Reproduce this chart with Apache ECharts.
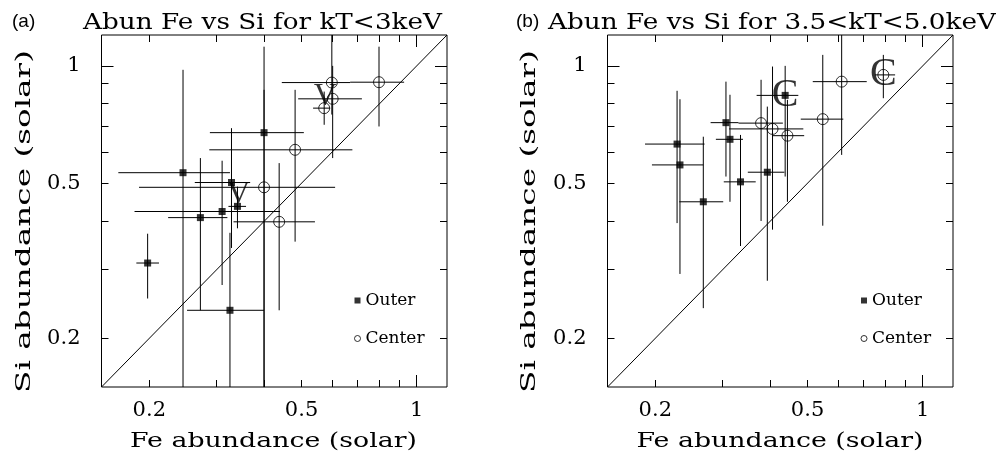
<!DOCTYPE html>
<html><head><meta charset="utf-8">
<script src="https://cdn.jsdelivr.net/npm/echarts@6/dist/echarts.min.js"></script>
<style>html,body{margin:0;padding:0;background:#fff}#c{width:996px;height:456px}</style>
</head><body><div id="c"></div>
<script>
// ---------- data ----------
const panelTags = ['(a)', '(b)'];
const panelTitles = ['Abun Fe vs Si for kT<3keV', 'Abun Fe vs Si for 3.5<kT<5.0keV'];
const xName = 'Fe abundance (solar)';
const yName = 'Si abundance (solar)';
const legendNames = ['Outer', 'Center'];
const axisMin = 0.15, axisMax = 1.2;
const tickLabels = [0.2, 0.5, 1];
const minorTicks = [0.2, 0.3, 0.4, 0.5, 0.6, 0.7, 0.8, 0.9];
const majorTicks = [1];
const diagonal = [[0.15, 0.15], [1.2, 1.2]];
// rows: [Fe, Si, FeLow, FeHigh, SiLow, SiHigh, tag]
const outerA = [
  [0.198, 0.312, 0.185, 0.212, 0.253, 0.371],
  [0.245, 0.532, 0.166, 0.325, 0.14, 0.977],
  [0.272, 0.408, 0.224, 0.320, 0.236, 0.580],
  [0.310, 0.423, 0.183, 0.439, 0.274, 0.571],
  [0.328, 0.502, 0.263, 0.367, 0.341, 0.692],
  [0.325, 0.236, 0.251, 0.399, 0.14, 0.373],
  [0.399, 0.674, 0.288, 0.507, 0.14, 1.12],
  [0.340, 0.436, 0.322, 0.358, 0.383, 0.490, 'V']
];
const centerA = [
  [0.399, 0.488, 0.188, 0.612, 0.14, 0.868],
  [0.600, 0.906, 0.444, 0.670, 0.75, 1.3],
  [0.797, 0.908, 0.670, 0.927, 0.699, 1.12],
  [0.603, 0.823, 0.490, 0.719, 0.58, 1.0],
  [0.573, 0.779, 0.536, 0.594, 0.706, 0.859, 'V'],
  [0.481, 0.609, 0.287, 0.679, 0.354, 0.868],
  [0.437, 0.398, 0.332, 0.542, 0.236, 0.563]
];
const outerB = [
  [0.228, 0.630, 0.188, 0.269, 0.395, 0.863],
  [0.232, 0.557, 0.196, 0.267, 0.2925, 0.821],
  [0.267, 0.448, 0.231, 0.301, 0.239, 0.658],
  [0.306, 0.715, 0.279, 0.330, 0.520, 0.911],
  [0.3135, 0.648, 0.288, 0.339, 0.448, 0.843],
  [0.334, 0.504, 0.302, 0.366, 0.345, 0.665],
  [0.3925, 0.5335, 0.349, 0.435, 0.281, 0.786],
  [0.437, 0.84, 0.368, 0.473, 0.520, 1.0, 'C']
];
const centerB = [
  [0.378, 0.713, 0.330, 0.431, 0.40, 0.921],
  [0.405, 0.689, 0.312, 0.4875, 0.380, 0.996],
  [0.443, 0.662, 0.405, 0.490, 0.448, 0.818],
  [0.548, 0.730, 0.480, 0.620, 0.389, 1.067],
  [0.614, 0.911, 0.516, 0.714, 0.591, 1.3],
  [0.789, 0.948, 0.750, 0.847, 0.826, 1.067, 'C']
];
const panels = [[outerA, centerA], [outerB, centerB]];

// ---------- styles ----------
const SERIF = 'DejaVu Serif';
const ANNOT = 'Liberation Serif';
const grids = [
  {left: 101.5, top: 35, width: 345.5, height: 352},
  {left: 607.5, top: 35, width: 345.5, height: 352}
];
const annotStyle = {
  V: {offset: [1, -12], fontSize: 32},
  C: {offset: [0, 0], fontSize: 40}
};

function fmt(v) { return String(Math.round(v * 100) / 100); }

function mkAxis(dim, gi, pos, ticks, len, withLabels) {
  const a = {
    type: 'log', logBase: 10, gridIndex: gi, position: pos,
    min: axisMin, max: axisMax,
    axisLine: {show: false}, splitLine: {show: false},
    axisTick: {show: true, inside: true, customValues: ticks, length: len,
               lineStyle: {color: '#000', width: 1}},
    axisLabel: {show: false}
  };
  if (withLabels) {
    a.axisLabel = {show: true, customValues: tickLabels, formatter: fmt,
      margin: dim === 'x' ? 13 : 21, color: '#000', fontFamily: SERIF, fontSize: 21};
  }
  return a;
}

const xAxis = [], yAxis = [];
grids.forEach((g, gi) => {
  xAxis.push(mkAxis('x', gi, 'bottom', minorTicks, 7, true));
  xAxis.push(mkAxis('x', gi, 'bottom', majorTicks, 12, false));
  xAxis.push(mkAxis('x', gi, 'top', minorTicks, 7, false));
  xAxis.push(mkAxis('x', gi, 'top', majorTicks, 12, false));
  yAxis.push(mkAxis('y', gi, 'left', minorTicks, 7, true));
  yAxis.push(mkAxis('y', gi, 'left', majorTicks, 12, false));
  yAxis.push(mkAxis('y', gi, 'right', minorTicks, 7, false));
  yAxis.push(mkAxis('y', gi, 'right', majorTicks, 12, false));
});

function errRender(params, api) {
  const clamp = v => Math.min(Math.max(v, axisMin), axisMax);
  const x = api.value(0), y = api.value(1);
  const a = api.coord([clamp(api.value(2)), y]);
  const b = api.coord([clamp(api.value(3)), y]);
  const c = api.coord([x, clamp(api.value(4))]);
  const d = api.coord([x, clamp(api.value(5))]);
  const st = {stroke: '#000', lineWidth: 1};
  return {type: 'group', children: [
    {type: 'line', shape: {x1: a[0], y1: a[1], x2: b[0], y2: b[1]}, style: st},
    {type: 'line', shape: {x1: c[0], y1: c[1], x2: d[0], y2: d[1]}, style: st}
  ]};
}

function pts(rows) {
  return rows.map(r => {
    const item = {value: [r[0], r[1]]};
    if (r[6]) {
      const s = annotStyle[r[6]];
      item.label = {show: true, formatter: r[6], position: 'inside', offset: s.offset,
        fontFamily: ANNOT, fontSize: s.fontSize, color: '#000'};
    }
    return item;
  });
}

const series = [];
panels.forEach((p, gi) => {
  const ax = {xAxisIndex: gi * 4, yAxisIndex: gi * 4};
  series.push(Object.assign({type: 'line', data: diagonal, symbol: 'none', silent: true,
    lineStyle: {color: '#000', width: 1}, z: 1}, ax));
  [p[0], p[1]].forEach(rows => {
    series.push(Object.assign({type: 'custom', renderItem: errRender, silent: true, z: 2,
      dimensions: ['fe', 'si', 'feLo', 'feHi', 'siLo', 'siHi'],
      encode: {x: 0, y: 1}, data: rows.map(r => r.slice(0, 6))}, ax));
  });
  series.push(Object.assign({type: 'scatter', name: legendNames[0], symbol: 'rect', symbolSize: 7,
    itemStyle: {color: '#000'}, z: 3, data: pts(p[0])}, ax));
  series.push(Object.assign({type: 'scatter', name: legendNames[1], symbol: 'circle', symbolSize: 11,
    itemStyle: {color: 'rgba(0,0,0,0)', borderColor: '#000', borderWidth: 1}, z: 3,
    data: pts(p[1])}, ax));
});

// text measuring for horizontally stretched PGPLOT-like lettering
const mctx = document.createElement('canvas').getContext('2d');
function stretch(text, px, target) {
  mctx.font = px + 'px "' + SERIF + '"';
  return target / mctx.measureText(text).width;
}

const titles = [];
const legends = [];
const graphics = [];
const tagLeft = [12, 516], titleLeft = [83, 548], titleW = [359, 448];
const legLeft = [354, 860.5], yNameX = [25, 530], xNameX = [273.5, 780];
panelTitles.forEach((t, i) => {
  titles.push({text: panelTags[i], left: tagLeft[i], top: 12, padding: 0,
    textStyle: {fontFamily: 'Liberation Sans', fontSize: 19, fontWeight: 'normal', color: '#000'}});
  graphics.push({type: 'text', x: titleLeft[i], y: 23, scaleX: stretch(t, 22, titleW[i]),
    style: {text: t, font: '22px "' + SERIF + '"', align: 'left', verticalAlign: 'middle', fill: '#000'}});
  graphics.push({type: 'text', x: xNameX[i], y: 442, scaleX: stretch(xName, 21, 287),
    style: {text: xName, font: '21px "' + SERIF + '"', align: 'center', verticalAlign: 'middle', fill: '#000'}});
  graphics.push({type: 'text', x: yNameX[i], y: 221.5, rotation: Math.PI / 2, scaleX: stretch(yName, 21, 343),
    style: {text: yName, font: '21px "' + SERIF + '"', align: 'center', verticalAlign: 'middle', fill: '#000'}});
  legends.push({left: legLeft[i], top: 292, orient: 'vertical', padding: 0, itemGap: 21,
    itemWidth: 6, itemHeight: 6, selectedMode: false,
    textStyle: {fontFamily: SERIF, fontSize: 17, color: '#000'},
    data: [
      {name: legendNames[0], icon: 'rect', itemStyle: {color: '#000'}},
      {name: legendNames[1], icon: 'circle', itemStyle: {color: 'rgba(0,0,0,0)', borderColor: '#000', borderWidth: 1}}
    ]});
});

const chart = echarts.init(document.getElementById('c'), null, {renderer: 'canvas'});
chart.setOption({
  animation: false,
  backgroundColor: '#fff',
  title: titles,
  legend: legends,
  graphic: graphics,
  grid: grids.map(g => Object.assign({show: true, borderColor: '#000', borderWidth: 1,
    backgroundColor: 'transparent', containLabel: false, outerBoundsMode: 'none'}, g)),
  xAxis: xAxis,
  yAxis: yAxis,
  series: series
});
</script>
</body></html>
